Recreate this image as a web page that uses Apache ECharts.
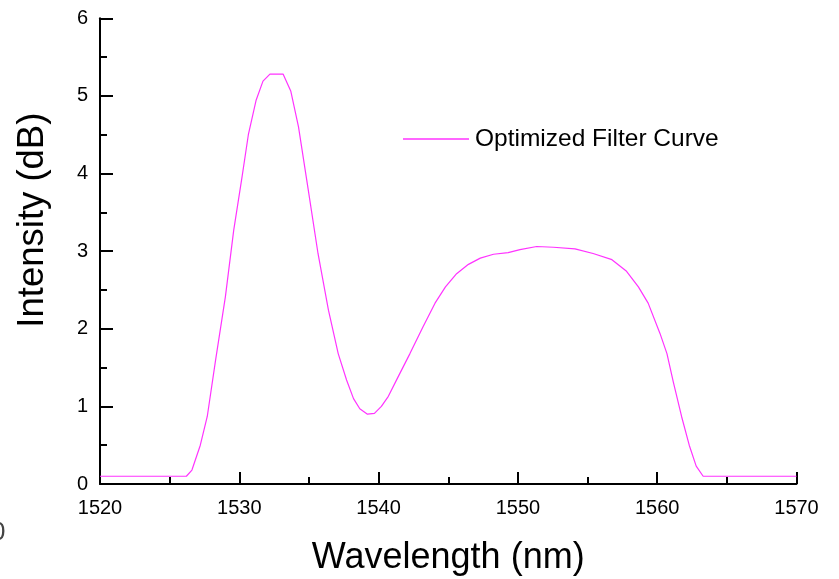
<!DOCTYPE html>
<html>
<head>
<meta charset="utf-8">
<script src="https://cdn.jsdelivr.net/npm/echarts@6/dist/echarts.min.js"></script>
<style>
html,body{margin:0;padding:0;background:#fff;}
#c{width:839px;height:579px;}
</style>
</head>
<body>
<div id="c"></div>
<script>
const seriesName = "Optimized Filter Curve";
const wavelengths = [1520, 1526.2, 1526.6, 1527.2, 1527.7, 1528.3, 1529.0, 1529.6, 1530.2, 1530.65, 1531.2, 1531.7, 1532.2, 1533.15, 1533.7, 1534.25, 1534.95, 1535.65, 1536.4, 1537.1, 1537.7, 1538.2, 1538.65, 1539.2, 1539.7, 1540.2, 1540.7, 1541.4, 1542.25, 1543.2, 1544.05, 1544.8, 1545.6, 1546.45, 1547.3, 1548.25, 1549.3, 1550.15, 1551.35, 1552.55, 1554.1, 1555.4, 1556.75, 1557.8, 1558.65, 1559.35, 1560.2, 1560.7, 1561.15, 1561.75, 1562.3, 1562.8, 1563.3, 1570];
const intensities = [0.1, 0.1, 0.18, 0.50, 0.87, 1.60, 2.41, 3.27, 3.96, 4.50, 4.94, 5.19, 5.28, 5.28, 5.06, 4.60, 3.79, 2.97, 2.24, 1.68, 1.34, 1.10, 0.97, 0.90, 0.91, 1.00, 1.13, 1.38, 1.68, 2.03, 2.33, 2.54, 2.71, 2.83, 2.91, 2.96, 2.98, 3.02, 3.06, 3.05, 3.03, 2.97, 2.89, 2.74, 2.54, 2.33, 1.94, 1.68, 1.32, 0.87, 0.50, 0.23, 0.10, 0.10];
const xTicks = [1520, 1530, 1540, 1550, 1560, 1570];
const yTicks = [0, 1, 2, 3, 4, 5, 6];

const font = "Liberation Sans, Arial, sans-serif";
const chart = echarts.init(document.getElementById('c'));
chart.setOption({
  animation: false,
  backgroundColor: '#ffffff',
  grid: {left: 100, right: 42.5, top: 18.3, bottom: 95, containLabel: false, outerBoundsMode: 'none'},
  legend: {
    left: 398, top: 121.5, itemWidth: 66, itemHeight: 1.3, itemGap: 10,
    icon: 'rect',
    textStyle: {fontFamily: font, fontSize: 24.5, color: '#000', padding: [0, 0, 0, 1]},
    data: [seriesName]
  },
  graphic: [{type: 'text', left: -9, top: 520, style: {text: '0', fontFamily: font, fontSize: 26, fill: '#444'}}],
  xAxis: {
    type: 'value', min: xTicks[0], max: xTicks[xTicks.length-1], interval: 10,
    name: 'Wavelength (nm)', nameLocation: 'middle', nameGap: 56,
    nameTextStyle: {fontFamily: font, fontSize: 36, color: '#000'},
    axisLine: {show: true, lineStyle: {color: '#000', width: 2}},
    axisTick: {show: true, inside: true, length: 12, lineStyle: {color: '#000', width: 2}},
    minorTick: {show: true, splitNumber: 2, length: 7, lineStyle: {color: '#000', width: 2}},
    splitLine: {show: false},
    axisLabel: {fontFamily: font, fontSize: 20, color: '#000', margin: 14, formatter: v => String(v)}
  },
  yAxis: {
    type: 'value', min: yTicks[0], max: yTicks[yTicks.length-1], interval: 1,
    name: 'Intensity (dB)', nameLocation: 'middle', nameGap: 49,
    nameTextStyle: {fontFamily: font, fontSize: 36.5, color: '#000', padding: [0, 0, 0, 62]},
    axisLine: {show: true, lineStyle: {color: '#000', width: 2}},
    axisTick: {show: true, inside: true, length: 13, lineStyle: {color: '#000', width: 2}},
    minorTick: {show: true, splitNumber: 2, length: 7, lineStyle: {color: '#000', width: 2}},
    splitLine: {show: false},
    axisLabel: {fontFamily: font, fontSize: 20, color: '#000', margin: 12}
  },
  series: [{
    name: seriesName, type: 'line', symbol: 'none', smooth: false,
    lineStyle: {color: '#ff33ff', width: 1.2},
    itemStyle: {color: '#ff33ff'},
    data: wavelengths.map((w, i) => [w, intensities[i]])
  }]
});
</script>
</body>
</html>
